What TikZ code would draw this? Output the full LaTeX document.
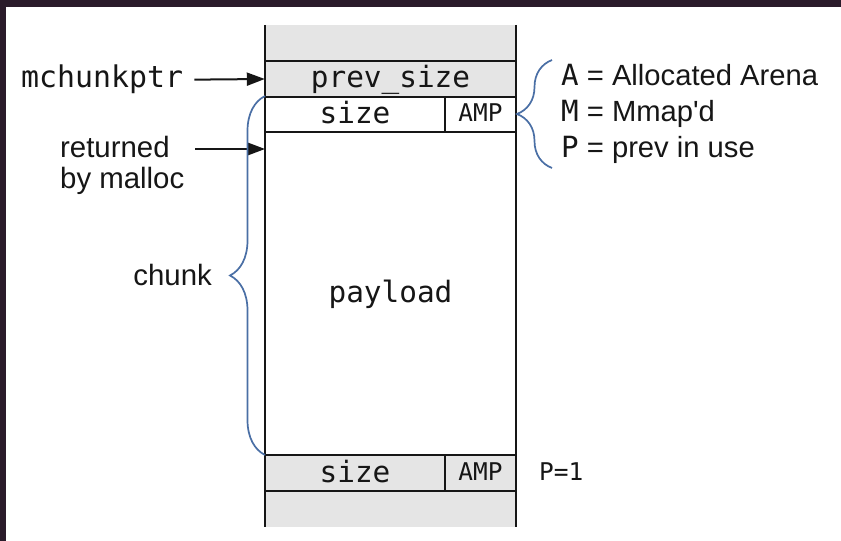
\documentclass[tikz,border=0pt]{standalone}
\usepackage{fontspec}
\newfontfamily\plainsans{Liberation Sans}
\newfontfamily\monofont{DejaVu Sans Mono}
\usetikzlibrary{decorations.pathreplacing,arrows.meta}

\definecolor{framecol}{RGB}{42,27,42}
\definecolor{cellgray}{RGB}{229,229,229}
\definecolor{bracecol}{RGB}{74,111,165}
\definecolor{ink}{RGB}{22,22,22}

\tikzset{
  cell/.style={inner sep=0pt, minimum height=#1, text=ink,
    font=\monofont\fontsize{29.5}{32}\selectfont, text height=21bp, text depth=3bp},
  flagcell/.style={inner sep=0pt, minimum height=#1, text=ink,
    font=\monofont\fontsize{24.5}{28}\selectfont, text height=17bp, text depth=2bp},
  label/.style={inner sep=0pt, text=ink, font=\plainsans\fontsize{29.5}{31}\selectfont},
  monolabel/.style={inner sep=0pt, text=ink, font=\monofont\fontsize{30}{32}\selectfont},
  legend/.style={inner sep=0pt, text=ink, font=\plainsans\fontsize{29.3}{31}\selectfont},
  rowline/.style={line width=2.2bp, draw=ink},
  sideline/.style={line width=1.4bp, draw=ink},
  divline/.style={line width=1.2bp, draw=ink},
  arr/.style={line width=2bp, draw=ink, -{Triangle[length=18bp,width=13bp]}},
  curly/.style={draw=bracecol, line width=1.7bp,
    decorate, decoration={brace, amplitude=35bp}},
}

\newcommand{\mono}[1]{{\monofont #1}}

\begin{document}
\begin{tikzpicture}[x=1bp, y=-1bp]
  \useasboundingbox (0,0) rectangle (841,541);
  \fill[white] (0,0) rectangle (841,541);
  % dark window edges
  \fill[framecol] (0,0) rectangle (841,7);
  \fill[framecol] (0,0) rectangle (6,541);

  % grey parts of the memory column
  \fill[cellgray] (265,25) rectangle (516,97);
  \fill[cellgray] (265,455) rectangle (516,527);

  % column sides
  \draw[sideline] (265,25) -- (265,527);
  \draw[sideline] (516,25) -- (516,527);
  % row separators
  \foreach \yy in {61,97,132,455,491}
    \draw[rowline] (264.3,\yy) -- (516.7,\yy);
  % flag field separators
  \draw[divline] (445,97) -- (445,132);
  \draw[divline] (445,455) -- (445,491);

  % cells
  \node[cell=36bp, minimum width=251bp] (prev) at (390.5,79) {prev\_size};
  \node[cell=35bp, minimum width=180bp] (size) at (355,114.5) {size};
  \node[flagcell=35bp, minimum width=71bp] (amp) at (480.5,114.5) {AMP};
  \node[cell=323bp, minimum width=251bp] (payload) at (390.5,293.5) {payload};
  \node[cell=36bp, minimum width=180bp] (nsize) at (355,473) {size};
  \node[flagcell=36bp, minimum width=71bp] (namp) at (480.5,473) {AMP};

  % pointers
  \node[monolabel, anchor=base west] (mptr) at (21,88) {mchunkptr};
  \draw[arr, shorten <=11bp] (mptr.east) -- (prev.west);

  \node[label, anchor=base west] (ret1) at (60,158) {returned};
  \node[label, anchor=base west] (ret2) at (60,189) {by malloc};
  \coordinate (rettail) at (195,149);
  \coordinate (ret) at (265,149);
  \draw[arr] (rettail) -- (ret);

  % chunk brace
  \coordinate (chunktop) at (265,96);
  \coordinate (chunkbot) at (265,455);
  \draw[curly] (chunkbot) -- (chunktop);
  \node[label, anchor=east] (chunk) at (212,275) {chunk};

  % flag legend
  \coordinate (legtop) at (552,60);
  \coordinate (legbot) at (552,168);
  \draw[curly] (legbot) -- (legtop);
  \node[legend, anchor=base west] (la) at (561,86) {\mono{A} = Allocated Arena};
  \node[legend, anchor=base west] (lm) at (561,122) {\mono{M} = Mmap'd};
  \node[legend, anchor=base west] (lp) at (561,158) {\mono{P} = prev in use};

  % next chunk flag
  \node[flagcell=36bp, anchor=base west, minimum height=0pt] (pone) at (539,480) {P=1};
\end{tikzpicture}
\end{document}
